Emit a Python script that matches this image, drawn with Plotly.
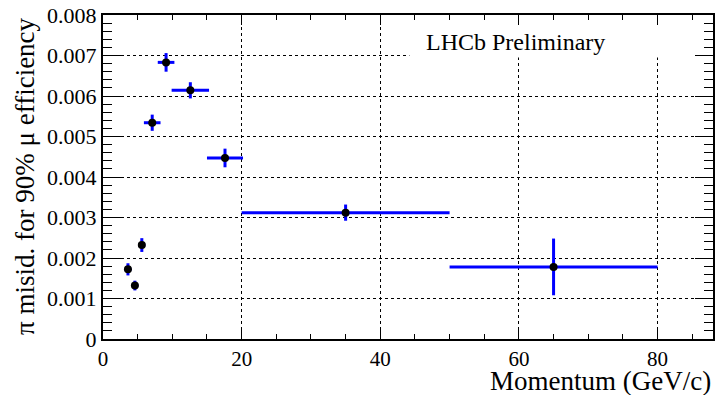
import plotly.graph_objects as go

# Data
momentum = [3.6, 4.6, 5.6, 7.1, 9.1, 12.6, 17.6, 35.0, 65.0]
momentum_err = [0.5, 0.5, 0.5, 1.2, 1.2, 2.7, 2.6, 15.0, 15.0]
misid = [0.00172, 0.00132, 0.00232, 0.00534, 0.00683, 0.00614, 0.00447, 0.00312, 0.00178]
misid_err = [0.00015, 0.00012, 0.00017, 0.00020, 0.00023, 0.00020, 0.00023, 0.00020, 0.00070]

x_tickvals = [0, 20, 40, 60, 80]
x_ticktext = ["0", "20", "40", "60", "80"]
y_tickvals = [0, 0.001, 0.002, 0.003, 0.004, 0.005, 0.006, 0.007, 0.008]
y_ticktext = ["0", "0.001", "0.002", "0.003", "0.004", "0.005", "0.006", "0.007", "0.008"]

FONT = "'Liberation Serif', 'Times New Roman', Times, serif"

fig = go.Figure()
fig.add_trace(go.Scatter(
    x=momentum, y=misid, mode="markers",
    marker=dict(color="black", size=8),
    error_x=dict(type="data", array=momentum_err, color="#0000ff", thickness=3, width=0),
    error_y=dict(type="data", array=misid_err, color="#0000ff", thickness=3, width=0),
    showlegend=False,
))

axis_common = dict(
    showline=True, linewidth=2, linecolor="black", mirror="allticks",
    ticks="inside", tickcolor="black", tickwidth=1,
    showgrid=True, gridcolor="black", gridwidth=1, griddash="dot",
    zeroline=False,
)

fig.update_xaxes(
    range=[0, 88], tickvals=x_tickvals, ticktext=x_ticktext, ticklen=10,
    tickfont=dict(family=FONT, size=21, color="black"),
    minor=dict(dtick=5, tick0=0, ticklen=5, ticks="inside", tickcolor="black", showgrid=False),
    **axis_common,
)
fig.update_yaxes(
    range=[0, 0.008], tickvals=y_tickvals, ticktext=y_ticktext, ticklen=18,
    tickfont=dict(family=FONT, size=22, color="black"),
    minor=dict(dtick=0.0002, tick0=0, ticklen=9, ticks="inside", tickcolor="black", showgrid=False),
    **axis_common,
)

# white box behind the label (covers grid)
fig.add_shape(type="rect", xref="x", yref="y", x0=44.2, x1=88, y0=0.00695, y1=0.008,
              fillcolor="white", line=dict(width=0), layer="between")

fig.add_annotation(text="LHCb Preliminary", xref="paper", yref="paper",
                   x=0.526, y=0.917, xanchor="left", yanchor="middle", showarrow=False,
                   font=dict(family=FONT, size=24, color="black"))

fig.add_annotation(text="Momentum (GeV/c)", xref="paper", yref="paper",
                   x=1.0, y=-0.13, xanchor="right", yanchor="middle", showarrow=False,
                   font=dict(family=FONT, size=27, color="black"))

fig.add_annotation(text="π misid. for 90% μ efficiency", xref="paper", yref="paper",
                   x=-0.128, y=1.0, xanchor="center", yanchor="top", textangle=-90,
                   showarrow=False, font=dict(family=FONT, size=27, color="black"))

fig.update_layout(
    width=717, height=395,
    margin=dict(l=103, r=2, t=15, b=56),
    plot_bgcolor="white", paper_bgcolor="white",
    font=dict(family=FONT, color="black"),
)

fig.write_html("out.html", config={"displayModeBar": False},
               post_script="document.body.style.margin='0';document.body.style.overflow='hidden';")
